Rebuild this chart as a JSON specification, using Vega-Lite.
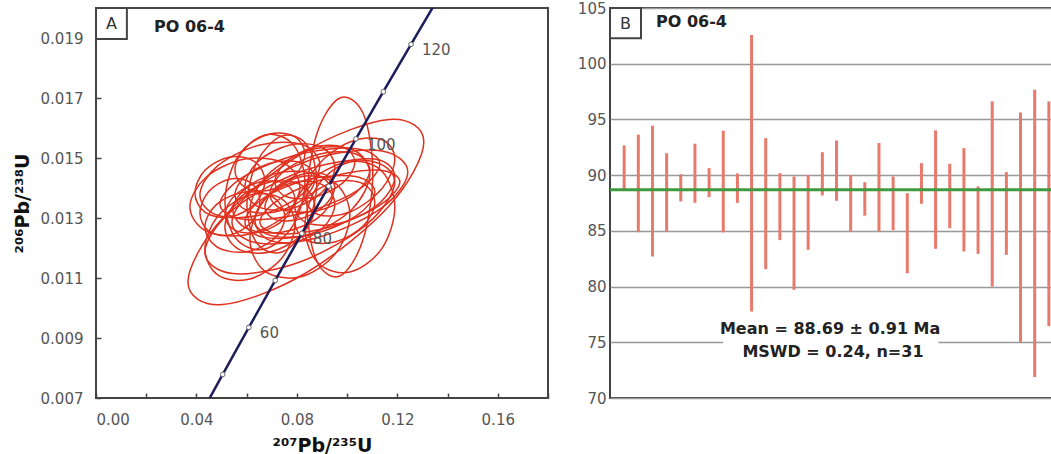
{
"$schema": "https://vega.github.io/schema/vega-lite/v6.json",
"background": "white",
"padding": {"left": 12, "top": 0, "right": 0, "bottom": 0},
"spacing": 26,
"config": {"view": {"stroke": "#444", "strokeWidth": 2}, "font": "DejaVu Sans"},
"datasets": {
"ell": [
{"e":1,"i":0,"x":0.13054,"y":0.015533},{"e":1,"i":1,"x":0.11678,"y":0.016287},{"e":1,"i":2,"x":0.08358,"y":0.015233},{"e":1,"i":3,"x":0.05038,"y":0.012988},{"e":1,"i":4,"x":0.03662,"y":0.010867},{"e":1,"i":5,"x":0.05038,"y":0.010113},{"e":1,"i":6,"x":0.08358,"y":0.011167},{"e":1,"i":7,"x":0.11678,"y":0.013412},
{"e":2,"i":0,"x":0.11024,"y":0.014533},{"e":2,"i":1,"x":0.10639,"y":0.016484},{"e":2,"i":2,"x":0.09711,"y":0.017000},{"e":2,"i":3,"x":0.08783,"y":0.015777},{"e":2,"i":4,"x":0.08398,"y":0.013533},{"e":2,"i":5,"x":0.08783,"y":0.011582},{"e":2,"i":6,"x":0.09711,"y":0.011066},{"e":2,"i":7,"x":0.10639,"y":0.012289},
{"e":3,"i":0,"x":0.08318,"y":0.014200},{"e":3,"i":1,"x":0.07852,"y":0.015446},{"e":3,"i":2,"x":0.06726,"y":0.015767},{"e":3,"i":3,"x":0.05600,"y":0.014975},{"e":3,"i":4,"x":0.05134,"y":0.013534},{"e":3,"i":5,"x":0.05600,"y":0.012288},{"e":3,"i":6,"x":0.06726,"y":0.011967},{"e":3,"i":7,"x":0.07852,"y":0.012759},
{"e":4,"i":0,"x":0.08796,"y":0.014200},{"e":4,"i":1,"x":0.08388,"y":0.015449},{"e":4,"i":2,"x":0.07403,"y":0.015733},{"e":4,"i":3,"x":0.06418,"y":0.014884},{"e":4,"i":4,"x":0.06010,"y":0.013400},{"e":4,"i":5,"x":0.06418,"y":0.012151},{"e":4,"i":6,"x":0.07403,"y":0.011867},{"e":4,"i":7,"x":0.08388,"y":0.012716},
{"e":5,"i":0,"x":0.11900,"y":0.014200},{"e":5,"i":1,"x":0.10792,"y":0.014919},{"e":5,"i":2,"x":0.08119,"y":0.014533},{"e":5,"i":3,"x":0.05446,"y":0.013269},{"e":5,"i":4,"x":0.04338,"y":0.011866},{"e":5,"i":5,"x":0.05446,"y":0.011147},{"e":5,"i":6,"x":0.08119,"y":0.011533},{"e":5,"i":7,"x":0.10792,"y":0.012797},
{"e":6,"i":0,"x":0.12417,"y":0.014533},{"e":6,"i":1,"x":0.11391,"y":0.015232},{"e":6,"i":2,"x":0.08915,"y":0.015033},{"e":6,"i":3,"x":0.06439,"y":0.014054},{"e":6,"i":4,"x":0.05413,"y":0.012867},{"e":6,"i":5,"x":0.06439,"y":0.012168},{"e":6,"i":6,"x":0.08915,"y":0.012367},{"e":6,"i":7,"x":0.11391,"y":0.013346},
{"e":7,"i":0,"x":0.11303,"y":0.014800},{"e":7,"i":1,"x":0.10370,"y":0.015311},{"e":7,"i":2,"x":0.08119,"y":0.015133},{"e":7,"i":3,"x":0.05868,"y":0.014369},{"e":7,"i":4,"x":0.04935,"y":0.013466},{"e":7,"i":5,"x":0.05868,"y":0.012955},{"e":7,"i":6,"x":0.08119,"y":0.013133},{"e":7,"i":7,"x":0.10370,"y":0.013897},
{"e":8,"i":0,"x":0.08915,"y":0.014767},{"e":8,"i":1,"x":0.08215,"y":0.015445},{"e":8,"i":2,"x":0.06527,"y":0.015434},{"e":8,"i":3,"x":0.04839,"y":0.014738},{"e":8,"i":4,"x":0.04139,"y":0.013767},{"e":8,"i":5,"x":0.04839,"y":0.013089},{"e":8,"i":6,"x":0.06527,"y":0.013100},{"e":8,"i":7,"x":0.08215,"y":0.013796},
{"e":9,"i":0,"x":0.08119,"y":0.014033},{"e":9,"i":1,"x":0.07478,"y":0.014831},{"e":9,"i":2,"x":0.05930,"y":0.014967},{"e":9,"i":3,"x":0.04382,"y":0.014360},{"e":9,"i":4,"x":0.03741,"y":0.013367},{"e":9,"i":5,"x":0.04382,"y":0.012569},{"e":9,"i":6,"x":0.05930,"y":0.012433},{"e":9,"i":7,"x":0.07478,"y":0.013040},
{"e":10,"i":0,"x":0.09433,"y":0.013800},{"e":10,"i":1,"x":0.08850,"y":0.014429},{"e":10,"i":2,"x":0.07443,"y":0.014533},{"e":10,"i":3,"x":0.06036,"y":0.014051},{"e":10,"i":4,"x":0.05453,"y":0.013266},{"e":10,"i":5,"x":0.06036,"y":0.012637},{"e":10,"i":6,"x":0.07443,"y":0.012533},{"e":10,"i":7,"x":0.08850,"y":0.013015},
{"e":11,"i":0,"x":0.11104,"y":0.013867},{"e":11,"i":1,"x":0.10346,"y":0.014380},{"e":11,"i":2,"x":0.08517,"y":0.014300},{"e":11,"i":3,"x":0.06688,"y":0.013673},{"e":11,"i":4,"x":0.05930,"y":0.012867},{"e":11,"i":5,"x":0.06688,"y":0.012354},{"e":11,"i":6,"x":0.08517,"y":0.012434},{"e":11,"i":7,"x":0.10346,"y":0.013061},
{"e":12,"i":0,"x":0.12099,"y":0.014200},{"e":12,"i":1,"x":0.11283,"y":0.014594},{"e":12,"i":2,"x":0.09313,"y":0.014366},{"e":12,"i":3,"x":0.07343,"y":0.013651},{"e":12,"i":4,"x":0.06527,"y":0.012866},{"e":12,"i":5,"x":0.07343,"y":0.012472},{"e":12,"i":6,"x":0.09313,"y":0.012700},{"e":12,"i":7,"x":0.11283,"y":0.013415},
{"e":13,"i":0,"x":0.08716,"y":0.013366},{"e":13,"i":1,"x":0.08191,"y":0.014094},{"e":13,"i":2,"x":0.06925,"y":0.014200},{"e":13,"i":3,"x":0.05659,"y":0.013622},{"e":13,"i":4,"x":0.05134,"y":0.012700},{"e":13,"i":5,"x":0.05659,"y":0.011972},{"e":13,"i":6,"x":0.06925,"y":0.011866},{"e":13,"i":7,"x":0.08191,"y":0.012444},
{"e":14,"i":0,"x":0.10109,"y":0.013100},{"e":14,"i":1,"x":0.09526,"y":0.014161},{"e":14,"i":2,"x":0.08119,"y":0.014367},{"e":14,"i":3,"x":0.06712,"y":0.013596},{"e":14,"i":4,"x":0.06129,"y":0.012300},{"e":14,"i":5,"x":0.06712,"y":0.011239},{"e":14,"i":6,"x":0.08119,"y":0.011033},{"e":14,"i":7,"x":0.09526,"y":0.011804},
{"e":15,"i":0,"x":0.07920,"y":0.012767},{"e":15,"i":1,"x":0.07395,"y":0.013640},{"e":15,"i":2,"x":0.06129,"y":0.013767},{"e":15,"i":3,"x":0.04863,"y":0.013074},{"e":15,"i":4,"x":0.04338,"y":0.011967},{"e":15,"i":5,"x":0.04863,"y":0.011094},{"e":15,"i":6,"x":0.06129,"y":0.010967},{"e":15,"i":7,"x":0.07395,"y":0.011660},
{"e":16,"i":0,"x":0.11900,"y":0.013366},{"e":16,"i":1,"x":0.11375,"y":0.014565},{"e":16,"i":2,"x":0.10109,"y":0.014866},{"e":16,"i":3,"x":0.08843,"y":0.014094},{"e":16,"i":4,"x":0.08318,"y":0.012700},{"e":16,"i":5,"x":0.08843,"y":0.011501},{"e":16,"i":6,"x":0.10109,"y":0.011200},{"e":16,"i":7,"x":0.11375,"y":0.011972},
{"e":17,"i":0,"x":0.09512,"y":0.014700},{"e":17,"i":1,"x":0.08987,"y":0.015357},{"e":17,"i":2,"x":0.07721,"y":0.015434},{"e":17,"i":3,"x":0.06455,"y":0.014885},{"e":17,"i":4,"x":0.05930,"y":0.014034},{"e":17,"i":5,"x":0.06455,"y":0.013377},{"e":17,"i":6,"x":0.07721,"y":0.013300},{"e":17,"i":7,"x":0.08987,"y":0.013849},
{"e":18,"i":0,"x":0.10905,"y":0.014600},{"e":18,"i":1,"x":0.10322,"y":0.015143},{"e":18,"i":2,"x":0.08915,"y":0.015133},{"e":18,"i":3,"x":0.07508,"y":0.014577},{"e":18,"i":4,"x":0.06925,"y":0.013800},{"e":18,"i":5,"x":0.07508,"y":0.013257},{"e":18,"i":6,"x":0.08915,"y":0.013267},{"e":18,"i":7,"x":0.10322,"y":0.013823},
{"e":19,"i":0,"x":0.06726,"y":0.014233},{"e":19,"i":1,"x":0.06318,"y":0.014881},{"e":19,"i":2,"x":0.05333,"y":0.015033},{"e":19,"i":3,"x":0.04348,"y":0.014599},{"e":19,"i":4,"x":0.03940,"y":0.013833},{"e":19,"i":5,"x":0.04348,"y":0.013185},{"e":19,"i":6,"x":0.05333,"y":0.013033},{"e":19,"i":7,"x":0.06318,"y":0.013467},
{"e":20,"i":0,"x":0.08716,"y":0.014300},{"e":20,"i":1,"x":0.08250,"y":0.014811},{"e":20,"i":2,"x":0.07124,"y":0.014866},{"e":20,"i":3,"x":0.05998,"y":0.014433},{"e":20,"i":4,"x":0.05532,"y":0.013766},{"e":20,"i":5,"x":0.05998,"y":0.013255},{"e":20,"i":6,"x":0.07124,"y":0.013200},{"e":20,"i":7,"x":0.08250,"y":0.013633},
{"e":21,"i":0,"x":0.11900,"y":0.014367},{"e":21,"i":1,"x":0.11317,"y":0.014928},{"e":21,"i":2,"x":0.09910,"y":0.014867},{"e":21,"i":3,"x":0.08503,"y":0.014221},{"e":21,"i":4,"x":0.07920,"y":0.013367},{"e":21,"i":5,"x":0.08503,"y":0.012806},{"e":21,"i":6,"x":0.09910,"y":0.012867},{"e":21,"i":7,"x":0.11317,"y":0.013513},
{"e":22,"i":0,"x":0.09512,"y":0.014033},{"e":22,"i":1,"x":0.09104,"y":0.014454},{"e":22,"i":2,"x":0.08119,"y":0.014433},{"e":22,"i":3,"x":0.07134,"y":0.013983},{"e":22,"i":4,"x":0.06726,"y":0.013367},{"e":22,"i":5,"x":0.07134,"y":0.012946},{"e":22,"i":6,"x":0.08119,"y":0.012967},{"e":22,"i":7,"x":0.09104,"y":0.013417},
{"e":23,"i":0,"x":0.10308,"y":0.014866},{"e":23,"i":1,"x":0.09842,"y":0.015358},{"e":23,"i":2,"x":0.08716,"y":0.015366},{"e":23,"i":3,"x":0.07590,"y":0.014887},{"e":23,"i":4,"x":0.07124,"y":0.014200},{"e":23,"i":5,"x":0.07590,"y":0.013708},{"e":23,"i":6,"x":0.08716,"y":0.013700},{"e":23,"i":7,"x":0.09842,"y":0.014179},
{"e":24,"i":0,"x":0.07920,"y":0.013634},{"e":24,"i":1,"x":0.07512,"y":0.014145},{"e":24,"i":2,"x":0.06527,"y":0.014200},{"e":24,"i":3,"x":0.05542,"y":0.013767},{"e":24,"i":4,"x":0.05134,"y":0.013100},{"e":24,"i":5,"x":0.05542,"y":0.012589},{"e":24,"i":6,"x":0.06527,"y":0.012534},{"e":24,"i":7,"x":0.07512,"y":0.012967},
{"e":25,"i":0,"x":0.11104,"y":0.013533},{"e":25,"i":1,"x":0.10638,"y":0.014143},{"e":25,"i":2,"x":0.09512,"y":0.014200},{"e":25,"i":3,"x":0.08386,"y":0.013671},{"e":25,"i":4,"x":0.07920,"y":0.012867},{"e":25,"i":5,"x":0.08386,"y":0.012257},{"e":25,"i":6,"x":0.09512,"y":0.012200},{"e":25,"i":7,"x":0.10638,"y":0.012729},
{"e":26,"i":0,"x":0.06527,"y":0.013567},{"e":26,"i":1,"x":0.06177,"y":0.014168},{"e":26,"i":2,"x":0.05333,"y":0.014300},{"e":26,"i":3,"x":0.04489,"y":0.013885},{"e":26,"i":4,"x":0.04139,"y":0.013167},{"e":26,"i":5,"x":0.04489,"y":0.012566},{"e":26,"i":6,"x":0.05333,"y":0.012434},{"e":26,"i":7,"x":0.06177,"y":0.012849},
{"e":27,"i":0,"x":0.09512,"y":0.013467},{"e":27,"i":1,"x":0.09046,"y":0.014096},{"e":27,"i":2,"x":0.07920,"y":0.014200},{"e":27,"i":3,"x":0.06794,"y":0.013718},{"e":27,"i":4,"x":0.06328,"y":0.012933},{"e":27,"i":5,"x":0.06794,"y":0.012304},{"e":27,"i":6,"x":0.07920,"y":0.012200},{"e":27,"i":7,"x":0.09046,"y":0.012682},
{"e":28,"i":0,"x":0.11900,"y":0.014967},{"e":28,"i":1,"x":0.11375,"y":0.015616},{"e":28,"i":2,"x":0.10109,"y":0.015534},{"e":28,"i":3,"x":0.08843,"y":0.014768},{"e":28,"i":4,"x":0.08318,"y":0.013767},{"e":28,"i":5,"x":0.08843,"y":0.013118},{"e":28,"i":6,"x":0.10109,"y":0.013200},{"e":28,"i":7,"x":0.11375,"y":0.013966},
{"e":29,"i":0,"x":0.08318,"y":0.015134},{"e":29,"i":1,"x":0.07910,"y":0.015715},{"e":29,"i":2,"x":0.06925,"y":0.015800},{"e":29,"i":3,"x":0.05940,"y":0.015338},{"e":29,"i":4,"x":0.05532,"y":0.014600},{"e":29,"i":5,"x":0.05940,"y":0.014019},{"e":29,"i":6,"x":0.06925,"y":0.013934},{"e":29,"i":7,"x":0.07910,"y":0.014396},
{"e":30,"i":0,"x":0.10905,"y":0.014467},{"e":30,"i":1,"x":0.10205,"y":0.015281},{"e":30,"i":2,"x":0.08517,"y":0.015267},{"e":30,"i":3,"x":0.06829,"y":0.014433},{"e":30,"i":4,"x":0.06129,"y":0.013267},{"e":30,"i":5,"x":0.06829,"y":0.012453},{"e":30,"i":6,"x":0.08517,"y":0.012467},{"e":30,"i":7,"x":0.10205,"y":0.013301},
{"e":31,"i":0,"x":0.07522,"y":0.013034},{"e":31,"i":1,"x":0.07056,"y":0.013692},{"e":31,"i":2,"x":0.05930,"y":0.013867},{"e":31,"i":3,"x":0.04804,"y":0.013456},{"e":31,"i":4,"x":0.04338,"y":0.012700},{"e":31,"i":5,"x":0.04804,"y":0.012042},{"e":31,"i":6,"x":0.05930,"y":0.011867},{"e":31,"i":7,"x":0.07056,"y":0.012278}
],
"conc": [
{"t":40,"x":0.04018,"y":0.006224},{"t":50,"x":0.05047,"y":0.007787},{"t":60,"x":0.06087,"y":0.009351},{"t":70,"x":0.07137,"y":0.010918},{"t":80,"x":0.08198,"y":0.012487},{"t":90,"x":0.09268,"y":0.014059},{"t":100,"x":0.10350,"y":0.015635},{"t":110,"x":0.11442,"y":0.017210},{"t":120,"x":0.12545,"y":0.018790},{"t":130,"x":0.13659,"y":0.020371}
],
"bars": [
{"i":1,"lo":88.74,"hi":92.67},{"i":2,"lo":84.88,"hi":93.63},{"i":3,"lo":82.70,"hi":94.43},{"i":4,"lo":84.95,"hi":91.97},{"i":5,"lo":87.64,"hi":90.09},{"i":6,"lo":87.52,"hi":92.82},{"i":7,"lo":88.03,"hi":90.63},{"i":8,"lo":84.86,"hi":93.99},{"i":9,"lo":87.52,"hi":90.15},{"i":10,"lo":77.77,"hi":102.57},{"i":11,"lo":81.56,"hi":93.32},{"i":12,"lo":84.17,"hi":90.18},{"i":13,"lo":79.71,"hi":89.88},{"i":14,"lo":83.30,"hi":90.03},{"i":15,"lo":88.18,"hi":92.06},{"i":16,"lo":87.70,"hi":93.11},{"i":17,"lo":84.95,"hi":90.03},{"i":18,"lo":86.36,"hi":89.37},{"i":19,"lo":84.95,"hi":92.88},{"i":20,"lo":85.06,"hi":89.88},{"i":21,"lo":81.20,"hi":88.38},{"i":22,"lo":87.43,"hi":91.08},{"i":23,"lo":83.39,"hi":94.01},{"i":24,"lo":85.24,"hi":91.02},{"i":25,"lo":83.15,"hi":92.42},{"i":26,"lo":82.94,"hi":88.99},{"i":27,"lo":80.00,"hi":96.62},{"i":28,"lo":82.85,"hi":90.27},{"i":29,"lo":74.98,"hi":95.63},{"i":30,"lo":71.89,"hi":97.67},{"i":31,"lo":76.45,"hi":96.62}
]
},
"hconcat": [
{
"width": 452, "height": 390,
"layer": [
{"data": {"name": "ell"},
 "mark": {"type": "line", "interpolate": "cardinal-closed", "stroke": "#e0311f", "strokeWidth": 1.5, "clip": true},
 "encoding": {
  "x": {"field": "x", "type": "quantitative", "scale": {"domain": [0, 0.18], "nice": false, "zero": false},
        "axis": {"values": [0,0.02,0.04,0.06,0.08,0.1,0.12,0.14,0.16,0.18], "labelExpr": "round(datum.value*100) % 4 == 0 ? format(datum.value, '.2f') : ''",
                 "tickSize": -5, "tickColor": "#444", "tickWidth": 1.5, "domain": false, "grid": false,
                 "labelColor": "#555", "labelFontSize": 15, "labelPadding": 19, "labelFont": "DejaVu Sans",
                 "title": "²⁰⁷Pb/²³⁵U", "titleFontSize": 19, "titleFontWeight": "bold", "titleColor": "#111", "titlePadding": 9, "titleFont": "DejaVu Sans"}},
  "y": {"field": "y", "type": "quantitative", "scale": {"domain": [0.007, 0.020], "nice": false, "zero": false},
        "axis": {"values": [0.007,0.008,0.009,0.010,0.011,0.012,0.013,0.014,0.015,0.016,0.017,0.018,0.019,0.020], "labelExpr": "round(datum.value*1000) % 2 == 1 ? format(datum.value, '.3f') : ''",
                 "tickSize": -5, "tickColor": "#444", "tickWidth": 1.5, "domain": false, "grid": false,
                 "labelColor": "#555", "labelFontSize": 15, "labelPadding": 18, "labelFont": "DejaVu Sans",
                 "title": "²⁰⁶Pb/²³⁸U", "titleFontSize": 19, "titleFontWeight": "bold", "titleColor": "#111", "titlePadding": 8, "titleFont": "DejaVu Sans"}},
  "detail": {"field": "e"},
  "order": {"field": "i", "type": "quantitative"}
 }},
{"data": {"name": "conc"},
 "mark": {"type": "line", "stroke": "#1d1d5c", "strokeWidth": 2.5, "clip": true},
 "encoding": {"x": {"field": "x", "type": "quantitative"}, "y": {"field": "y", "type": "quantitative"}, "order": {"field": "t", "type": "quantitative"}}},
{"data": {"name": "conc"},
 "transform": [{"filter": "datum.t >= 50 && datum.t <= 120"}],
 "mark": {"type": "point", "filled": true, "fill": "white", "stroke": "#666", "strokeWidth": 1, "size": 22, "opacity": 1},
 "encoding": {"x": {"field": "x", "type": "quantitative"}, "y": {"field": "y", "type": "quantitative"}}},
{"data": {"name": "conc"},
 "transform": [{"filter": "datum.t == 60 || datum.t == 80 || datum.t == 100 || datum.t == 120"}],
 "mark": {"type": "text", "align": "left", "baseline": "middle", "dx": 11, "dy": 6, "fontSize": 15, "fill": "#555", "font": "DejaVu Sans"},
 "encoding": {"x": {"field": "x", "type": "quantitative"}, "y": {"field": "y", "type": "quantitative"}, "text": {"field": "t"}}},
{"data": {"values": [{"x": 0, "x2": 0.0123, "y": 0.01897, "y2": 0.020}]},
 "mark": {"type": "rect", "fill": "white", "stroke": "#444", "strokeWidth": 2},
 "encoding": {"x": {"field": "x", "type": "quantitative"}, "x2": {"field": "x2"}, "y": {"field": "y", "type": "quantitative"}, "y2": {"field": "y2"}}},
{"data": {"values": [{"x": 0.00617, "y": 0.01947, "t": "A"}]},
 "mark": {"type": "text", "align": "center", "baseline": "middle", "fontSize": 16, "fill": "#333", "font": "DejaVu Sans"},
 "encoding": {"x": {"field": "x", "type": "quantitative"}, "y": {"field": "y", "type": "quantitative"}, "text": {"field": "t"}}},
{"data": {"values": [{"x": 0.0231, "y": 0.01937, "t": "PO 06-4"}]},
 "mark": {"type": "text", "align": "left", "baseline": "middle", "fontSize": 16, "fontWeight": "bold", "fill": "#222", "font": "DejaVu Sans"},
 "encoding": {"x": {"field": "x", "type": "quantitative"}, "y": {"field": "y", "type": "quantitative"}, "text": {"field": "t"}}}
]
},
{
"width": 453, "height": 390,
"layer": [
{"data": {"values": [{"x": 8.0, "x2": 23.2, "y": 73.0, "y2": 77.4}]},
 "mark": {"type": "rect", "fill": "white"},
 "encoding": {
  "x": {"field": "x", "type": "quantitative", "scale": {"domain": [0, 32], "nice": false, "zero": false}, "axis": null},
  "x2": {"field": "x2"},
  "y": {"field": "y", "type": "quantitative", "scale": {"domain": [70, 105], "nice": false, "zero": false},
        "axis": {"values": [70,75,80,85,90,95,100,105], "ticks": false, "domain": false, "grid": true, "gridColor": "#999", "gridWidth": 1.5,
                 "labelColor": "#555", "labelFontSize": 15, "labelPadding": 4, "labelFont": "DejaVu Sans", "title": null}},
  "y2": {"field": "y2"}}},
{"data": {"name": "bars"},
 "mark": {"type": "rule", "stroke": "#e87a6c", "strokeWidth": 3},
 "encoding": {"x": {"field": "i", "type": "quantitative"}, "y": {"field": "lo", "type": "quantitative"}, "y2": {"field": "hi"}}},
{"data": {"values": [{"m": 88.69}]},
 "mark": {"type": "rule", "stroke": "#3f9a3f", "strokeWidth": 3},
 "encoding": {"y": {"field": "m", "type": "quantitative"}}},
{"data": {"values": [{"x": 15.55, "y": 76.15, "t": "Mean = 88.69 ± 0.91 Ma"}, {"x": 15.75, "y": 74.1, "t": "MSWD = 0.24, n=31"}]},
 "mark": {"type": "text", "align": "center", "baseline": "middle", "fontSize": 16, "fontWeight": "bold", "fill": "#222", "font": "DejaVu Sans"},
 "encoding": {"x": {"field": "x", "type": "quantitative"}, "y": {"field": "y", "type": "quantitative"}, "text": {"field": "t"}}},
{"data": {"values": [{"x": 0, "x2": 2.19, "y": 102.29, "y2": 105}]},
 "mark": {"type": "rect", "fill": "white", "stroke": "#444", "strokeWidth": 2},
 "encoding": {"x": {"field": "x", "type": "quantitative"}, "x2": {"field": "x2"}, "y": {"field": "y", "type": "quantitative"}, "y2": {"field": "y2"}}},
{"data": {"values": [{"x": 1.1, "y": 103.6, "t": "B"}]},
 "mark": {"type": "text", "align": "center", "baseline": "middle", "fontSize": 16, "fill": "#333", "font": "DejaVu Sans"},
 "encoding": {"x": {"field": "x", "type": "quantitative"}, "y": {"field": "y", "type": "quantitative"}, "text": {"field": "t"}}},
{"data": {"values": [{"x": 3.25, "y": 103.7, "t": "PO 06-4"}]},
 "mark": {"type": "text", "align": "left", "baseline": "middle", "fontSize": 16, "fontWeight": "bold", "fill": "#222", "font": "DejaVu Sans"},
 "encoding": {"x": {"field": "x", "type": "quantitative"}, "y": {"field": "y", "type": "quantitative"}, "text": {"field": "t"}}}
]
}
]
}
